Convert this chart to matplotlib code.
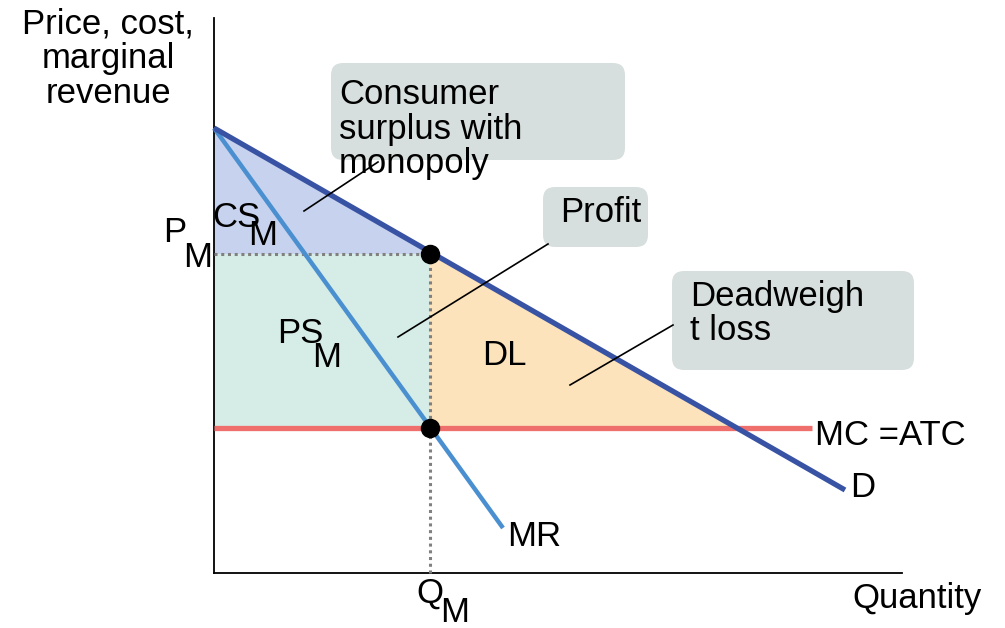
import matplotlib.pyplot as plt
from matplotlib.patches import FancyBboxPatch

plt.rcParams['font.family'] = ['Liberation Sans', 'DejaVu Sans']

# curves (quantity, price)
demand_q = [0, 63.1]
demand_p = [44.5, 8.3]
mr_q = [0, 28.9]
mr_p = [44.5, 4.5]
mc_q = [0, 59.8]
mc_level = 14.5

q_m = 21.6        # monopoly quantity
p_m = 31.9        # monopoly price
q_cross = 52.3    # where demand meets MC

# colours
c_demand = '#3953a4'
c_mr = '#4a90d0'
c_mc = '#ef6f6c'
c_cs = '#c6d2ee'
c_ps = '#d6ede7'
c_dl = '#fde3bc'
c_box = '#d6dfdd'

fs = 25

fig = plt.figure(figsize=(10.05, 6.28), dpi=100)
ax = fig.add_axes([0, 0, 1, 1])
ax.set_xlim(-21.4, 79.1)
ax.set_ylim(-5.5, 57.3)
ax.axis('off')

# axes lines
ax.plot([0, 0], [0, 55.5], color='black', lw=1.3, zorder=2)
ax.plot([0, 68.8], [0, 0], color='black', lw=1.3, zorder=2)

# shaded areas
ax.fill([0, 0, q_m], [demand_p[0], p_m, p_m], color=c_cs, lw=0, zorder=1)
ax.fill([0, q_m, q_m, 0], [mc_level, mc_level, p_m, p_m], color=c_ps, lw=0, zorder=1)
ax.fill([q_m, q_m, q_cross], [p_m, mc_level, mc_level], color=c_dl, lw=0, zorder=1)

# dotted guides
ax.plot([0, q_m], [p_m, p_m], color='#808080', lw=2.2, ls=(0, (1, 1.2)), zorder=2)
ax.plot([q_m, q_m], [0, p_m], color='#808080', lw=2.2, ls=(0, (1, 1.2)), zorder=2)

# curves
ax.plot(mc_q, [mc_level, mc_level], color=c_mc, lw=3.8, solid_capstyle='butt', zorder=3)
ax.plot(mr_q, mr_p, color=c_mr, lw=3.2, solid_capstyle='butt', zorder=4)
ax.plot(demand_q, demand_p, color=c_demand, lw=3.8, solid_capstyle='butt', zorder=5)

# equilibrium dots
ax.plot([q_m, q_m], [p_m, mc_level], 'o', color='black', ms=13, zorder=6)

# callout boxes
boxes = [
    (11.7, 41.3, 29.4, 9.7),
    (32.9, 32.6, 10.5, 6.0),
    (45.8, 20.3, 24.2, 9.9),
]
for x0, y0, w, h in boxes:
    ax.add_patch(FancyBboxPatch((x0 + 1.2, y0 + 1.2), w - 2.4, h - 2.4,
                                boxstyle='round,pad=1.2', fc=c_box, ec='none',
                                zorder=7))

# leader lines
ax.plot([9.0, 16.4], [36.2, 41.1], color='black', lw=1.2, zorder=8)
ax.plot([18.4, 33.4], [23.6, 32.9], color='black', lw=1.2, zorder=8)
ax.plot([35.6, 45.9], [18.8, 24.8], color='black', lw=1.2, zorder=8)

txt = dict(fontsize=fs, color='black', zorder=9, va='baseline', ha='left')
# multiline texts: baseline is the last line
ax.text(12.5, 40.0, 'Consumer\nsurplus with\nmonopoly', linespacing=1.05, **txt)
ax.text(34.6, 35.1, 'Profit', **txt)
ax.text(47.6, 23.3, 'Deadweigh\nt loss', linespacing=1.05, **txt)

# labels
ax.text(-10.6, 56.6, 'Price, cost,\nmarginal\nrevenue', fontsize=fs, ha='center',
        va='top', multialignment='center', linespacing=1.07)
ax.text(-5.1, 33.1, 'P', **txt)
ax.text(-3.1, 30.6, 'M', **txt)
ax.text(-0.2, 34.6, 'CS', **txt)
ax.text(3.4, 32.8, 'M', **txt)
ax.text(6.3, 23.0, 'PS', **txt)
ax.text(9.8, 20.6, 'M', **txt)
ax.text(26.8, 20.8, 'DL', **txt)
ax.text(60.1, 12.8, 'MC =ATC', **txt)
ax.text(63.6, 7.6, 'D', **txt)
ax.text(29.3, 2.7, 'MR', **txt)
ax.text(20.2, -3.0, 'Q', **txt)
ax.text(22.6, -4.9, 'M', **txt)
ax.text(63.8, -3.5, 'Quantity', **txt)

fig.savefig('out.png', dpi=100)
